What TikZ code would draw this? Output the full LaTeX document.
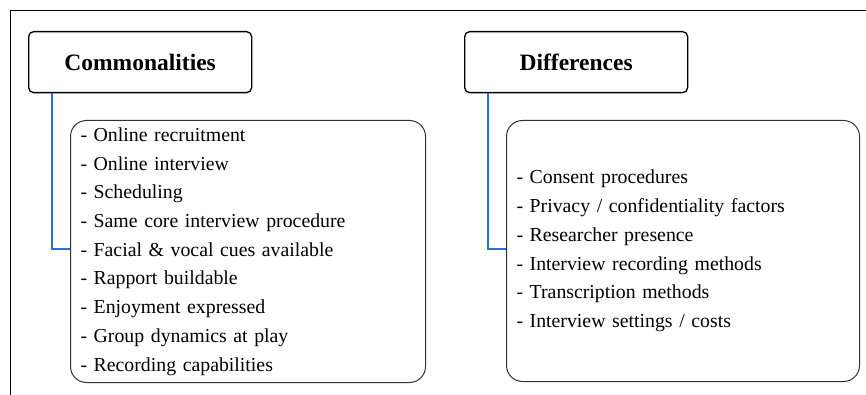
\documentclass[tikz,border=0pt]{standalone}
\usepackage{fontspec}
\setmainfont{Liberation Serif}
\newfontfamily\boxfont{Liberation Serif}
\usetikzlibrary{calc}
\definecolor{linkblue}{RGB}{38,112,214}

\begin{document}
\begin{tikzpicture}[x=1pt,y=-1pt,
    head/.style={draw,line width=1.3pt,rounded corners=5pt,minimum width=223pt,minimum height=61pt,anchor=north west,font=\boxfont\fontsize{23.5}{28}\selectfont\bfseries},
    list/.style={draw,draw=black!80,line width=1pt,rounded corners=16pt,anchor=north west,align=left,inner xsep=10pt,inner ysep=3pt,font=\boxfont\fontsize{19.8}{28.7}\selectfont},
    link/.style={draw=linkblue,line width=1.6pt}]
    \useasboundingbox (0,0) rectangle (866,395);
    \draw[line width=1pt] (866,11) -| (10,395);
    \coordinate (P) at (28,31);
    \coordinate (Q) at (464,31);
    \node[head] (hc) at (P) {Commonalities};
    \node[head] (hd) at (Q) {Differences};
    \node[list,text width=335pt,minimum height=262pt] (cl) at (70,120)
        {- Online recruitment\\- Online interview\\- Scheduling\\- Same core interview procedure\\- Facial \& vocal cues available\\- Rapport buildable\\- Enjoyment expressed\\- Group dynamics at play\\- Recording capabilities};
    \node[list,text width=333pt,minimum height=261pt] (dl) at (506,120)
        {- Consent procedures\\- Privacy / confidentiality factors\\- Researcher presence\\- Interview recording methods\\- Transcription methods\\- Interview settings / costs};
    \coordinate (jc) at (52,249);
    \coordinate (jd) at (488,249);
    \draw[link] (hc.south -| jc) -- (jc) -- (cl.west |- jc);
    \draw[link] (hd.south -| jd) -- (jd) -- (dl.west |- jd);
\end{tikzpicture}
\end{document}
